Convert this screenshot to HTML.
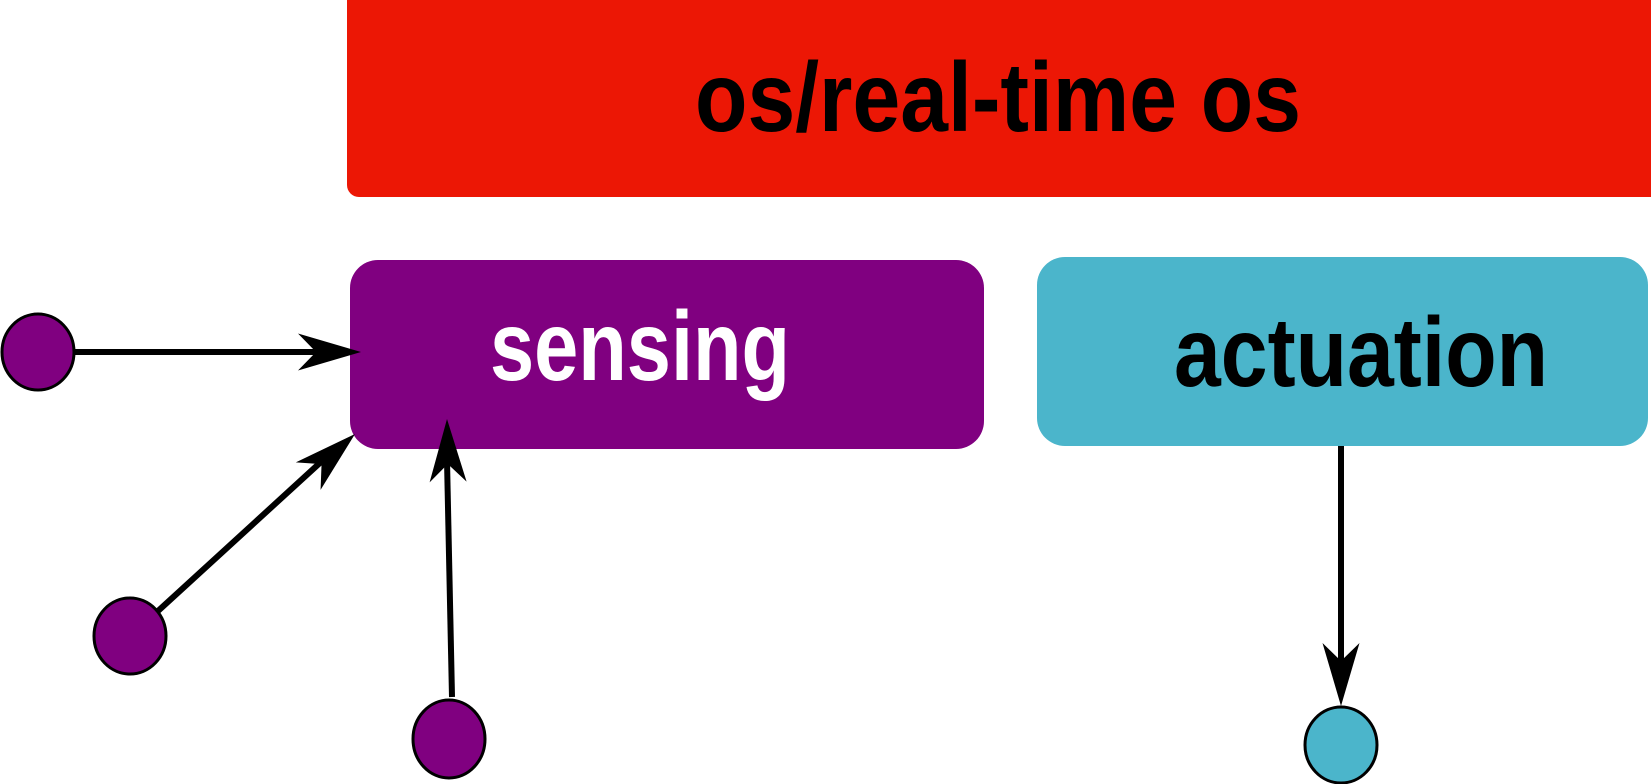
<!DOCTYPE html>
<html><head><meta charset="utf-8"><style>
html,body{margin:0;padding:0;background:#fff;}
svg{display:block}
text{font-family:"Liberation Sans",sans-serif;font-weight:bold;}
</style></head><body>
<svg width="1651" height="784" viewBox="0 0 1651 784" xmlns="http://www.w3.org/2000/svg">
<rect x="347" y="-12" width="1316" height="209" rx="12" fill="#ec1705"/>
<text x="695" y="131" font-size="98" textLength="606" lengthAdjust="spacingAndGlyphs" fill="#000">os/real-time os</text>
<rect x="350" y="260" width="634" height="189" rx="28" fill="#800080"/>
<text x="490" y="380" font-size="98" textLength="300" lengthAdjust="spacingAndGlyphs" fill="#fff">sensing</text>
<rect x="1037" y="257" width="611" height="189" rx="28" fill="#4bb5cb"/>
<text x="1174" y="386" font-size="98" textLength="374" lengthAdjust="spacingAndGlyphs" fill="#000">actuation</text>
<g stroke="#000" stroke-width="6">
<line x1="75" y1="352" x2="320" y2="352"/>
<line x1="158" y1="611" x2="322" y2="461"/>
<line x1="452" y1="697" x2="447" y2="460"/>
<line x1="1341" y1="446" x2="1341" y2="664"/>
</g>
<defs><polygon id="ah" points="0,0 -63,-18.5 -45,0 -63,18.5" fill="#000"/></defs>
<use href="#ah" transform="translate(361,352)"/>
<use href="#ah" transform="translate(355,434) rotate(-42)"/>
<use href="#ah" transform="translate(447,419) rotate(-91)"/>
<use href="#ah" transform="translate(1341,706) rotate(90)"/>
<g stroke="#000" stroke-width="3">
<ellipse cx="38" cy="352" rx="36" ry="38" fill="#800080"/>
<ellipse cx="130" cy="636" rx="36" ry="38" fill="#800080"/>
<ellipse cx="449" cy="739" rx="36" ry="39" fill="#800080"/>
<ellipse cx="1341" cy="745" rx="36" ry="38" fill="#4bb5cb"/>
</g>
</svg>
</body></html>
